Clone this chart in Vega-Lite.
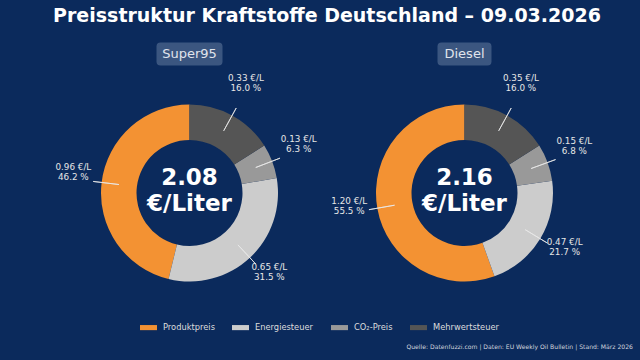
{
  "$schema": "https://vega.github.io/schema/vega-lite/v6.json",
  "background": "#0b2a5c",
  "padding": {"left": 52, "right": 12, "top": 7, "bottom": 12},
  "title": {
    "text": "Quelle: Datenfuzzi.com | Daten: EU Weekly Oil Bulletin | Stand: März 2026",
    "orient": "bottom",
    "anchor": "end",
    "fontSize": 6.1,
    "fontWeight": "normal",
    "font": "DejaVu Sans",
    "color": "#d0d4dc",
    "offset": 13,
    "dx": 31
  },
  "data": {
    "values": [
      {"fuel": "Super95", "part": "Produktpreis", "eur": 0.96, "pct": 46.2, "total": 2.08, "ord": 4},
      {"fuel": "Super95", "part": "Energiesteuer", "eur": 0.65, "pct": 31.5, "total": 2.08, "ord": 3},
      {"fuel": "Super95", "part": "CO₂-Preis", "eur": 0.13, "pct": 6.3, "total": 2.08, "ord": 2},
      {"fuel": "Super95", "part": "Mehrwertsteuer", "eur": 0.33, "pct": 16.0, "total": 2.08, "ord": 1},
      {"fuel": "Diesel", "part": "Produktpreis", "eur": 1.20, "pct": 55.5, "total": 2.16, "ord": 4},
      {"fuel": "Diesel", "part": "Energiesteuer", "eur": 0.47, "pct": 21.7, "total": 2.16, "ord": 3},
      {"fuel": "Diesel", "part": "CO₂-Preis", "eur": 0.15, "pct": 6.8, "total": 2.16, "ord": 2},
      {"fuel": "Diesel", "part": "Mehrwertsteuer", "eur": 0.35, "pct": 16.0, "total": 2.16, "ord": 1}
    ]
  },
  "transform": [
    {"calculate": "[format(datum.eur, '.2f') + ' €/L', format(datum.pct, '.1f') + ' %']", "as": "label"},
    {"calculate": "[format(datum.total, '.2f'), '€/Liter']", "as": "center"}
  ],
  "facet": {
    "column": {
      "field": "fuel",
      "type": "nominal",
      "sort": ["Super95", "Diesel"],
      "title": "Preisstruktur Kraftstoffe Deutschland – 09.03.2026",
      "header": {
        "labels": false,
        "titleFontSize": 19,
        "titleFontWeight": "bold",
        "titleColor": "#ffffff",
        "titleFont": "DejaVu Sans",
        "titlePadding": 37
      }
    }
  },
  "spacing": 0,
  "bounds": "flush",
  "spec": {
    "width": 275,
    "height": 240,
    "layer": [
      {
        "mark": {"type": "arc", "outerRadius": 88.5, "innerRadius": 53},
        "encoding": {
          "theta": {"field": "pct", "type": "quantitative", "stack": "normalize"},
          "order": {"field": "ord", "type": "quantitative"},
          "color": {
            "field": "part",
            "type": "nominal",
            "scale": {
              "domain": ["Produktpreis", "Energiesteuer", "CO₂-Preis", "Mehrwertsteuer"],
              "range": ["#f39233", "#cccccc", "#999999", "#555555"]
            },
            "legend": {
              "orient": "none",
              "legendX": 88,
              "legendY": 246,
              "direction": "horizontal",
              "title": null,
              "symbolType": "M-1,-0.3L1,-0.3L1,0.3L-1,0.3Z",
              "symbolSize": 289,
              "symbolStrokeWidth": 0,
              "labelColor": "#dddddd",
              "labelFontSize": 8.3,
              "labelFont": "DejaVu Sans",
              "columnPadding": 17,
              "labelOffset": 6
            }
          }
        }
      },
      {
        "transform": [
          {"window": [{"op": "sum", "field": "pct", "as": "cum"}], "groupby": ["fuel"], "sort": [{"field": "ord"}], "frame": [null, 0]},
          {"calculate": "(datum.cum - datum.pct / 2) / 100", "as": "mid"}
        ],
        "mark": {"type": "arc", "innerRadius": 71, "outerRadius": 97, "fill": "transparent", "stroke": "#e8e8e8", "strokeWidth": 0.8},
        "encoding": {
          "theta": {"field": "mid", "type": "quantitative", "stack": null},
          "theta2": {"field": "mid"}
        }
      },
      {
        "mark": {"type": "text", "radius": 117, "dy": -12, "fontSize": 8.8, "color": "#e6e6e6", "lineHeight": 10, "align": "center", "baseline": "middle", "font": "DejaVu Sans"},
        "encoding": {
          "theta": {"field": "pct", "type": "quantitative", "stack": "normalize"},
          "order": {"field": "ord", "type": "quantitative"},
          "text": {"field": "label"}
        }
      },
      {
        "transform": [{"filter": "datum.ord == 4"}],
        "mark": {"type": "text", "dy": -15, "fontSize": 23, "fontWeight": "bold", "color": "#ffffff", "lineHeight": 26, "align": "center", "baseline": "middle", "font": "DejaVu Sans"},
        "encoding": {"text": {"field": "center"}}
      },
      {
        "transform": [{"filter": "datum.ord == 4"}],
        "mark": {"type": "point", "filled": true, "size": 4356, "color": "#3b5680", "opacity": 1, "strokeWidth": 0, "yOffset": -139},
        "encoding": {
          "shape": {
            "field": "fuel",
            "type": "nominal",
            "scale": {
              "domain": ["Super95", "Diesel"],
              "range": [
                "M-0.879,-0.348L0.879,-0.348Q1,-0.348 1,-0.227L1,0.227Q1,0.348 0.879,0.348L-0.879,0.348Q-1,0.348 -1,0.227L-1,-0.227Q-1,-0.348 -0.879,-0.348Z",
                "M-0.697,-0.348L0.697,-0.348Q0.818,-0.348 0.818,-0.227L0.818,0.227Q0.818,0.348 0.697,0.348L-0.697,0.348Q-0.818,0.348 -0.818,0.227L-0.818,-0.227Q-0.818,-0.348 -0.697,-0.348Z"
              ]
            },
            "legend": null
          }
        }
      },
      {
        "transform": [{"filter": "datum.ord == 4"}],
        "mark": {"type": "text", "fontSize": 13, "color": "#e0e4ec", "align": "center", "baseline": "middle", "yOffset": -139, "font": "DejaVu Sans"},
        "encoding": {"text": {"field": "fuel"}}
      }
    ]
  },
  "config": {
    "view": {"stroke": null},
    "font": "DejaVu Sans"
  }
}
